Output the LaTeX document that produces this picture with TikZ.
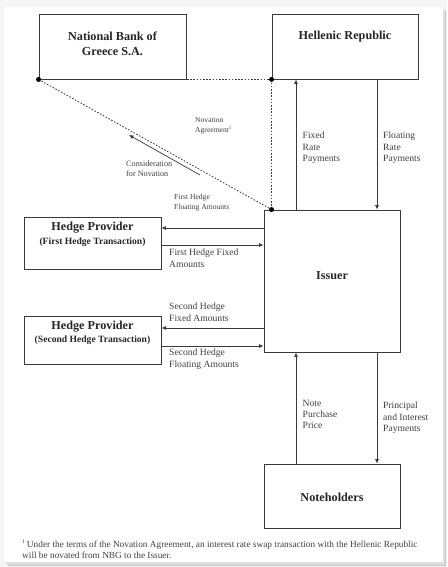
\documentclass[tikz,border=0pt]{standalone}
\usepackage{fontspec}
\setmainfont{Liberation Serif}
\usetikzlibrary{arrows.meta}
\definecolor{ln}{HTML}{3A3A3A}
\tikzset{
  box/.style={draw=ln, line width=0.9pt, fill=white, inner sep=0pt},
  ttl/.style={font=\fontsize{12.2}{14.5}\selectfont\bfseries, align=center, inner sep=0pt, text=black!85},
  sub/.style={font=\fontsize{9.6}{12}\selectfont\bfseries, align=center, inner sep=0pt, text=black!85},
  lbl/.style={font=\fontsize{9.6}{11.2}\selectfont, align=left, inner sep=0pt, anchor=north west, text=black!75},
  sml/.style={font=\fontsize{7.6}{9.6}\selectfont, align=left, inner sep=0pt, anchor=north west, text=black!75},
  arr/.style={draw=ln, line width=0.7pt, -{Latex[length=4.5pt,width=4pt]}},
  dot/.style={draw=ln, line width=0.8pt, dash pattern=on 1.6pt off 1.6pt},
  blob/.style={circle, fill=black, inner sep=0pt, minimum size=5pt},
}
\begin{document}
\begin{tikzpicture}[x=1pt,y=-1pt]
\useasboundingbox (0,0) rectangle (447,567);
% page background
\fill[gray!8] (0,0) rectangle (447,567);
\fill[gray!45] (8,11) rectangle (446,566);
\fill[gray!25] (6,9) rectangle (445,565);
\fill[white] (4,7) rectangle (443,562);

% boxes
\node[box, minimum width=147pt, minimum height=65pt] (nbg) at (112.5,46.5) {};
\node[box, minimum width=146pt, minimum height=65pt] (hr) at (345,46.5) {};
\node[box, minimum width=136pt, minimum height=142pt] (iss) at (332,281) {};
\node[box, minimum width=137pt, minimum height=52pt] (hp1) at (92.5,243) {};
\node[box, minimum width=137pt, minimum height=48pt] (hp2) at (92.5,340) {};
\node[box, minimum width=136pt, minimum height=64pt] (nh) at (332,496) {};

% titles
\node[ttl] (tnbg) at (112.5,44) {National Bank of\\Greece S.A.};
\node[ttl] (thr) at (345,37) {Hellenic Republic};
\node[ttl] (tiss) at (332,276) {Issuer};
\node[ttl] (thp1) at (92.5,228) {Hedge Provider};
\node[sub] (shp1) at (92.5,242) {(First Hedge Transaction)};
\node[ttl] (thp2) at (92.5,327) {Hedge Provider};
\node[sub] (shp2) at (92.5,340) {(Second Hedge Transaction)};
\node[ttl] (tnh) at (332,497) {Noteholders};

% dotted novation lines
\draw[dot] ([xshift=-9pt]nbg.south east) -- (hr.south west);
\draw[dot] (hr.south west) -- (iss.north west -| hr.south west);
\draw[dot] (nbg.south west) -- (iss.north west -| hr.south west);
\node[blob] (d1) at (nbg.south west) {};
\node[blob] (d2) at (hr.south west) {};
\node[blob] (d3) at (iss.north west -| hr.south west) {};

% Hellenic Republic flows
\draw[arr] (iss.north -| 296,0) -- (hr.south -| 296,0);
\draw[arr] (hr.south -| 377,0) -- (iss.north -| 377,0);
\node[lbl] (lfx) at (302.5,132) {Fixed\\Rate\\Payments};
\node[lbl] (lfl) at (383,132) {Floating\\Rate\\Payments};

% novation
\node[sml] (lnov) at (195,117.5) {Novation\\Agreement\textsuperscript{\fontsize{5}{5}\selectfont 1}};
\coordinate (c1) at (200,175);
\coordinate (c2) at (129,135);
\draw[arr] (c1) -- (c2);
\node[sml, font=\fontsize{8.2}{9.8}\selectfont] (lcon) at (126,161) {Consideration\\for Novation};

% hedge flows
\draw[arr] (iss.west |- 0,228) -- (hp1.east |- 0,228);
\draw[arr] (hp1.east |- 0,245) -- (iss.west |- 0,245);
\node[sml] (lh1a) at (174,194) {First Hedge\\Floating Amounts};
\node[lbl] (lh1b) at (169,249) {First Hedge Fixed\\Amounts};
\draw[arr] (iss.west |- 0,328) -- (hp2.east |- 0,328);
\draw[arr] (hp2.east |- 0,346) -- (iss.west |- 0,346);
\node[lbl] (lh2a) at (169,303) {Second Hedge\\Fixed Amounts};
\node[lbl] (lh2b) at (169,349) {Second Hedge\\Floating Amounts};

% noteholder flows
\draw[arr] (nh.north -| 296,0) -- (iss.south -| 296,0);
\draw[arr] (iss.south -| 377,0) -- (nh.north -| 377,0);
\node[lbl] (lnp) at (302.5,400) {Note\\Purchase\\Price};
\node[lbl] (lpi) at (383,402) {Principal\\and Interest\\Payments};

% footnote
\node[lbl, font=\fontsize{9.3}{11.2}\selectfont] (fn) at (22,540) {\textsuperscript{\fontsize{5.5}{5}\selectfont 1}\,Under the terms of the Novation Agreement, an interest rate swap transaction with the Hellenic Republic\\will be novated from NBG to the Issuer.};
\end{tikzpicture}
\end{document}
